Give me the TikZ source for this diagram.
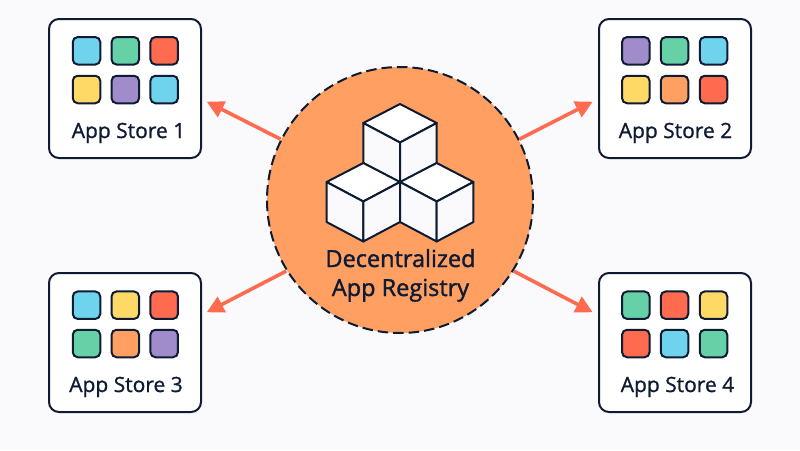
\documentclass[tikz,border=0pt]{standalone}
\usepackage{fontspec}
\setmainfont{Open Sans}
\newfontfamily\labelfont[FakeBold=1.0]{Open Sans}
\newfontfamily\hubfont[FakeBold=1.5]{Open Sans}
\usetikzlibrary{arrows.meta}
\definecolor{ink}{HTML}{0F1B33}
\definecolor{pagebg}{HTML}{FAFAFC}
\definecolor{cblue}{HTML}{6FD3EE}
\definecolor{cgreen}{HTML}{66D1A6}
\definecolor{cred}{HTML}{FF6B4F}
\definecolor{cyellow}{HTML}{FFD966}
\definecolor{cpurple}{HTML}{A08CCB}
\definecolor{corange}{HTML}{FFA062}
\tikzset{
  storebox/.style={draw=ink,fill=white,line width=2pt,rounded corners=10pt,minimum width=152pt,minimum height=139pt,inner sep=0pt},
  icon/.style={draw=ink,line width=2pt,rounded corners=5pt,minimum size=27.5pt,inner sep=0pt},
  storelabel/.style={text=ink,anchor=base,font=\labelfont\fontsize{21}{25}\selectfont,inner sep=0pt},
  reglabel/.style={text=ink,anchor=base,font=\hubfont\fontsize{23.5}{28}\selectfont,inner sep=0pt},
  registry/.style={circle,fill=corange,draw=ink,line width=2pt,dash pattern=on 10.5pt off 5pt,minimum size=266pt,inner sep=0pt},
  flow/.style={draw=cred,line width=3.6pt,-{Triangle[length=17pt,width=17pt]}},
  face/.style={draw=ink,line width=2pt,line join=round},
}
\begin{document}
\begin{tikzpicture}[x=1pt,y=-1pt]
\useasboundingbox (0,0) rectangle (800,450);
\fill[pagebg] (0,0) rectangle (800,450);
% stores
\node[storebox] (s1) at (125,88.5) {};
\node[storebox] (s2) at (675,88.5) {};
\node[storebox] (s3) at (125,342.5) {};
\node[storebox] (s4) at (675,342.5) {};
% icons
\foreach \n/\x/\y/\c in {
  a/86.5/50.8/cblue,b/125.3/50.8/cgreen,c/164.2/50.8/cred,d/86.5/89.5/cyellow,e/125.3/89.5/cpurple,f/164.2/89.5/cblue,
  g/635.8/50.8/cpurple,h/674.5/50.8/cgreen,i/713.5/50.8/cblue,j/635.8/89.5/cyellow,k/674.5/89.5/corange,l/713.5/89.5/cred,
  m/86.5/305.2/cblue,n/125.3/305.2/cyellow,o/164.2/305.2/cred,p/86.5/343.5/cgreen,q/125.3/343.5/corange,r/164.2/343.5/cpurple,
  s/635.8/305.2/cgreen,t/674.5/305.2/cred,u/713.5/305.2/cyellow,v/635.8/343.5/cred,w/674.5/343.5/cblue,z/713.5/343.5/cgreen}
  {\node[icon,fill=\c] (ic\n) at (\x,\y) {};}
\node[storelabel] (t1) at (128.5,138) {App Store 1};
\node[storelabel] (t2) at (675.5,138) {App Store 2};
\node[storelabel] (t3) at (126,392) {App Store 3};
\node[storelabel] (t4) at (677.5,392) {App Store 4};
% hub
\coordinate (tip1) at (206.7,101.7);
\coordinate (tip2) at (592.7,101.7);
\coordinate (tip3) at (206.7,312.3);
\coordinate (tip4) at (592.7,312.3);
\node[registry] (hub) at (400,200) {};
\draw[flow] (hub.153) -- (tip1);
\draw[flow] (hub.27) -- (tip2);
\draw[flow] (hub.212) -- (tip3);
\draw[flow] (hub.-32) -- (tip4);
% cubes
\foreach \ox/\oy in {0/0,-36.7/59,36.7/59}{
  \begin{scope}[shift={(\ox,\oy)}]
  \draw[face,fill=white] (400,104) -- (436.7,123) -- (400,142.5) -- (363.3,123) -- cycle;
  \draw[face,fill=pagebg] (363.3,123) -- (400,142.5) -- (400,182.5) -- (363.3,163) -- cycle;
  \draw[face,fill=pagebg] (436.7,123) -- (400,142.5) -- (400,182.5) -- (436.7,163) -- cycle;
  \end{scope}
}
\node[reglabel] (r1) at (400.5,267) {Decentralized};
\node[reglabel] (r2) at (400.5,296) {App Registry};
\end{tikzpicture}
\end{document}
